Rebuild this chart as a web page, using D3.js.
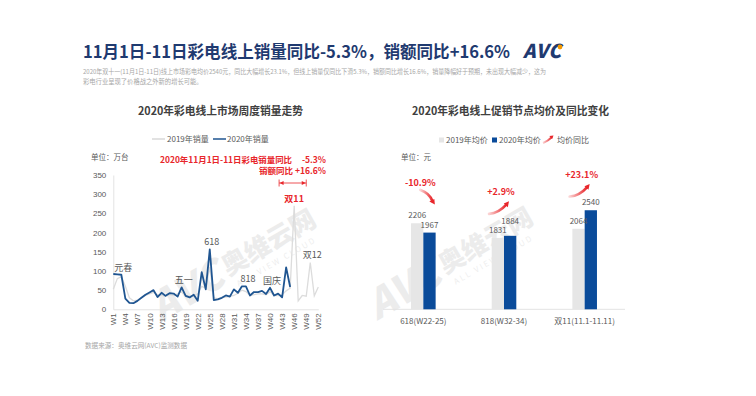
<!DOCTYPE html>
<html>
<head>
<meta charset="utf-8">
<script src="https://cdn.jsdelivr.net/npm/d3@7"></script>
<style>
  body { margin: 0; background: #fff; }
  svg { display: block; font-family: "Noto Sans CJK SC", "Noto Sans", sans-serif; }
</style>
</head>
<body>
<div id="chart"></div>
<script>
// weekly online TV sales (万台)
const weeks = d3.range(1, 53).map(i => 'W' + i);
const tickWeeks = weeks.filter((w, i) => i % 3 === 0);
const sales2019 = [52, 80, 85, 60, 30, 22, 24, 30, 36, 40, 44, 38, 36, 34, 38, 36, 40, 45, 36, 34,
  36, 40, 60, 55, 110, 30, 28, 30, 32, 34, 36, 42, 50, 46, 36, 38, 40, 40, 38, 46,
  36, 36, 38, 48, 55, 270, 22, 36, 34, 122, 35, 58];
const sales2020 = [92, 91, 90, 28, 17, 16, 22, 30, 38, 44, 50, 32, 43, 35, 42, 41, 33, 57, 35, 31,
  38, 22, 97, 52, 156, 24, 26, 30, 36, 33, 52, 43, 60, 60, 36, 45, 45, 48, 40, 56,
  36, 41, 31, 109, 58];
const yTicks = [0, 50, 100, 150, 200, 250, 300, 350];
const events = [
  {week: 'W3', label: '元春'}, {week: 'W18', label: '五一'}, {week: 'W25', label: '618'},
  {week: 'W34', label: '818'}, {week: 'W40', label: '国庆'}, {week: 'W50', label: '双12'}
];

// promotion average price (元)
const periods = ['618(W22-25)', '818(W32-34)', '双11(11.1-11.11)'];
const price2019 = [2206, 1831, 2064];
const price2020 = [1967, 1884, 2540];
const priceYoy = ['-10.9%', '+2.9%', '+23.1%'];

const W = 756, H = 396;
const navy = '#1f3a70', red = '#e8262b', grey = '#595959';

const svg = d3.select('#chart').append('svg').attr('width', W).attr('height', H);

const defs = svg.append('defs');
const grad = defs.append('linearGradient').attr('id', 'redfade')
  .attr('x1', '0%').attr('x2', '100%');
grad.append('stop').attr('offset', '0%').attr('stop-color', '#fbd3d3');
grad.append('stop').attr('offset', '100%').attr('stop-color', red);

// faint watermarks
function watermark(x, y) {
  const g = svg.append('g').attr('transform', `translate(${x},${y}) rotate(-30)`)
    .attr('opacity', 0.07).attr('fill', '#000');
  g.append('text').attr('x', -62).attr('y', 2).attr('font-size', 40).attr('font-weight', 900)
    .attr('font-style', 'italic').text('AVC');
  g.append('text').attr('x', 20).attr('y', -4).attr('font-size', 26).attr('font-weight', 900).text('奥维云网');
  g.append('text').attr('x', 24).attr('y', 10).attr('font-size', 8).attr('letter-spacing', 2).text('ALL VIEW CLOUD');
}
watermark(213, 290);
watermark(430, 288);

// header
svg.append('text').attr('x', 83).attr('y', 58).attr('font-size', 17).attr('font-weight', 700)
  .attr('fill', navy).attr('textLength', 427).attr('lengthAdjust', 'spacingAndGlyphs')
  .text('11月1日-11日彩电线上销量同比-5.3%，销额同比+16.6%');

const logo = svg.append('g').attr('transform', 'translate(523,58)');
logo.append('text').attr('font-size', 19).attr('font-weight', 900).attr('font-style', 'italic')
  .attr('fill', navy).attr('textLength', 38).text('AVC');
logo.append('circle').attr('cx', 37).attr('cy', -11).attr('r', 2.4).attr('fill', '#f39800');

svg.append('text').attr('x', 83).attr('y', 74).attr('font-size', 6.3).attr('fill', '#a6a6a6')
  .attr('textLength', 463).attr('lengthAdjust', 'spacingAndGlyphs')
  .text('2020年双十一(11月1日-11日)线上市场彩电均价2540元，同比大幅增长23.1%，但线上销量仅同比下滑5.3%，销额同比增长16.6%，销量降幅好于预期，未出现大幅减少，这为');
svg.append('text').attr('x', 83).attr('y', 84).attr('font-size', 6.3).attr('fill', '#a6a6a6')
  .text('彩电行业呈现了价格战之外新的增长可能。');

// ---------- left: weekly sales line chart ----------
const x = d3.scalePoint().domain(weeks).range([113.3, 318.3]);
const y = d3.scaleLinear().domain([0, 350]).range([309.3, 175]);

svg.append('text').attr('x', 138).attr('y', 115).attr('font-size', 11).attr('font-weight', 700)
  .attr('fill', '#404040').attr('textLength', 165).attr('lengthAdjust', 'spacingAndGlyphs')
  .text('2020年彩电线上市场周度销量走势');

const legL = svg.append('g').attr('font-size', 8).attr('fill', grey);
legL.append('line').attr('x1', 152).attr('x2', 165).attr('y1', 139).attr('y2', 139)
  .attr('stroke', '#d9d9d9').attr('stroke-width', 1.5);
legL.append('text').attr('x', 167).attr('y', 142).text('2019年销量');
legL.append('line').attr('x1', 213).attr('x2', 226).attr('y1', 139).attr('y2', 139)
  .attr('stroke', '#1f5591').attr('stroke-width', 1.5);
legL.append('text').attr('x', 227).attr('y', 142).text('2020年销量');

svg.append('text').attr('x', 91).attr('y', 160).attr('font-size', 7.5).attr('fill', grey).text('单位：万台');

const yAxis = svg.append('g').attr('transform', 'translate(113.3,0)')
  .call(d3.axisLeft(y).tickValues(yTicks).tickSize(0).tickPadding(7));
yAxis.select('.domain').attr('stroke', '#e3e3e3');
yAxis.selectAll('text').attr('font-size', 8).attr('fill', grey).attr('font-family', null);

const xAxis = svg.append('g').attr('transform', 'translate(0,309.3)')
  .call(d3.axisBottom(x).tickValues(tickWeeks).tickSize(0).tickPadding(4));
xAxis.select('.domain').attr('stroke', '#e3e3e3');
xAxis.selectAll('text').attr('font-size', 8).attr('fill', grey).attr('font-family', null)
  .attr('transform', 'rotate(-90)').attr('text-anchor', 'end')
  .attr('x', -4).attr('y', 0).attr('dy', '0.32em');

const line = d3.line().x((d, i) => x(weeks[i])).y(d => y(d));
svg.append('path').datum(sales2019).attr('d', line).attr('fill', 'none')
  .attr('stroke', '#dcdcdc').attr('stroke-width', 1.3);
svg.append('path').datum(sales2020).attr('d', line).attr('fill', 'none')
  .attr('stroke', '#1f5591').attr('stroke-width', 1.8).attr('stroke-linejoin', 'round');

// event labels sit just above the week's value
svg.append('g').selectAll('text').data(events).join('text')
  .attr('x', d => x(d.week) + 2)
  .attr('y', d => {
    const i = weeks.indexOf(d.week);
    const v = d.label === '双12' ? sales2019[i] : sales2020[i];
    return y(v) - 4;
  })
  .attr('text-anchor', 'middle').attr('font-size', 9).attr('fill', grey)
  .text(d => d.label);

// red annotation
const ann = svg.append('g').attr('fill', red).attr('font-size', 8.5).attr('font-weight', 700);
ann.append('text').attr('x', 160).attr('y', 163).attr('textLength', 132)
  .attr('lengthAdjust', 'spacingAndGlyphs').text('2020年11月1日-11日彩电销量同比');
ann.append('text').attr('x', 326).attr('y', 163).attr('text-anchor', 'end').text('-5.3%');
ann.append('text').attr('x', 326).attr('y', 174).attr('text-anchor', 'end').text('销额同比 +16.6%');
const ax1 = x('W42') + 1, ax2 = x('W49');
const arr = svg.append('g').attr('stroke', red).attr('stroke-width', 0.8).attr('fill', red);
arr.append('line').attr('x1', ax1).attr('x2', ax2).attr('y1', 183).attr('y2', 183);
arr.append('line').attr('x1', ax1).attr('x2', ax1).attr('y1', 179.5).attr('y2', 186.5);
arr.append('line').attr('x1', ax2).attr('x2', ax2).attr('y1', 179.5).attr('y2', 186.5);
arr.append('path').attr('stroke', 'none')
  .attr('d', `M${ax1 + 0.5},183 l4,-2 v4 z M${ax2 - 0.5},183 l-4,-2 v4 z`);
ann.append('text').attr('x', x('W46')).attr('y', 202).attr('font-size', 9)
  .attr('text-anchor', 'middle').text('双11');

svg.append('text').attr('x', 85).attr('y', 348).attr('font-size', 6.6).attr('fill', '#a6a6a6')
  .text('数据来源：奥维云网(AVC)监测数据');

// ---------- right: average price bar chart ----------
const xb = d3.scaleBand().domain(periods).range([383, 625]);
const xs = d3.scaleBand().domain(['2019', '2020']).range([0, 24.6]);
const yb = d3.scaleLinear().domain([0, 3000]).range([309.3, 192.3]);

svg.append('text').attr('x', 412).attr('y', 115).attr('font-size', 11).attr('font-weight', 700)
  .attr('fill', '#404040').attr('textLength', 197).attr('lengthAdjust', 'spacingAndGlyphs')
  .text('2020年彩电线上促销节点均价及同比变化');

const legR = svg.append('g').attr('font-size', 8).attr('fill', grey);
legR.append('rect').attr('x', 439).attr('y', 137.5).attr('width', 5).attr('height', 5).attr('fill', '#e6e6e6');
legR.append('text').attr('x', 446).attr('y', 143).text('2019年均价');
legR.append('rect').attr('x', 492).attr('y', 137.5).attr('width', 5).attr('height', 5).attr('fill', '#0a4b9a');
legR.append('text').attr('x', 499).attr('y', 143).text('2020年均价');
legR.append('path').attr('d', 'M543,143 Q548,141 552,137').attr('fill', 'none')
  .attr('stroke', 'url(#redfade)').attr('stroke-width', 2);
legR.append('path').attr('d', 'M553.5,135.5 l-4.2,0.6 l2.8,3 z').attr('fill', red);
legR.append('text').attr('x', 557).attr('y', 143).text('均价同比');

svg.append('text').attr('x', 401).attr('y', 160).attr('font-size', 7.5).attr('fill', grey).text('单位：元');

const rows = periods.map((p, i) => ({p, v19: price2019[i], v20: price2020[i], yoy: priceYoy[i]}));

svg.append('line').attr('x1', 383).attr('x2', 625).attr('y1', yb(0)).attr('y2', yb(0))
  .attr('stroke', '#e3e3e3');

const grp = svg.append('g').selectAll('g').data(rows).join('g')
  .attr('transform', d => `translate(${xb(d.p) + xb.bandwidth() / 2 - 12.3},0)`);
grp.append('rect').attr('x', xs('2019')).attr('width', xs.bandwidth())
  .attr('y', d => yb(d.v19)).attr('height', d => yb(0) - yb(d.v19)).attr('fill', '#e6e6e6');
grp.append('rect').attr('x', xs('2020')).attr('width', xs.bandwidth())
  .attr('y', d => yb(d.v20)).attr('height', d => yb(0) - yb(d.v20)).attr('fill', '#0a4b9a');
grp.append('text').attr('x', xs('2019') + xs.bandwidth() / 2).attr('y', d => yb(d.v19) - 5)
  .attr('text-anchor', 'middle').attr('font-size', 8).attr('fill', grey).text(d => d.v19);
// lift the 2020 label when it would collide with the 2019 one
grp.append('text').attr('x', xs('2020') + xs.bandwidth() / 2).attr('y', d => {
    const ly = yb(d.v20) - 5, l19 = yb(d.v19) - 5;
    return Math.abs(ly - l19) < 9 ? Math.min(ly, l19) - 7 : ly;
  })
  .attr('text-anchor', 'middle').attr('font-size', 8).attr('fill', grey).text(d => d.v20);

svg.append('g').selectAll('text').data(periods).join('text')
  .attr('x', d => xb(d) + xb.bandwidth() / 2).attr('y', 324)
  .attr('text-anchor', 'middle').attr('font-size', 8).attr('fill', grey).text(d => d);

// yoy labels with curved arrows, above the pair of bars
const yoyG = svg.append('g').selectAll('g').data(rows).join('g')
  .attr('transform', d => `translate(${xb(d.p) + xb.bandwidth() / 2 - 3},${(yb(d.v19) + yb(d.v20)) / 2 - 42})`);
yoyG.append('text').attr('text-anchor', 'middle').attr('font-size', 9).attr('font-weight', 700)
  .attr('fill', red).text(d => d.yoy);
yoyG.append('path').attr('fill', 'none').attr('stroke', 'url(#redfade)').attr('stroke-width', 2.6)
  .attr('stroke-linecap', 'round')
  .attr('d', d => d.yoy[0] === '-' ? 'M0,4 Q9,7 12,15' : 'M-12,19 Q-2,18 5,10');
yoyG.append('path').attr('fill', red)
  .attr('d', d => d.yoy[0] === '-' ? 'M14.5,18.5 l-5.5,-3 l5,-2.5 z' : 'M8,6.5 l-1.2,5.8 l-4,-3.6 z');
</script>
</body>
</html>
